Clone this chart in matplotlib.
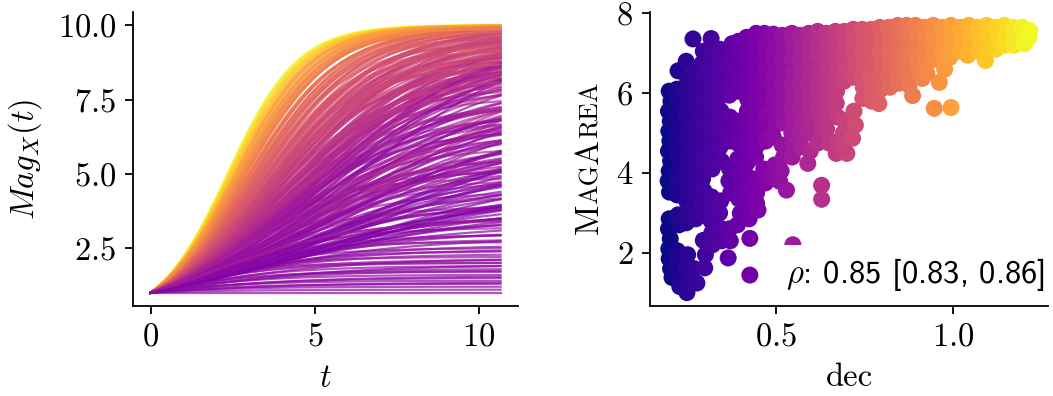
import numpy as np
import matplotlib
matplotlib.use("Agg")
import matplotlib.pyplot as plt
from matplotlib import colors

plt.rcParams['font.family'] = 'cmr10'
plt.rcParams['mathtext.fontset'] = 'cm'
plt.rcParams['axes.formatter.use_mathtext'] = True
plt.rcParams['axes.unicode_minus'] = False

FS = 23.5

# ---------------- left panel: growth curves (asymptote K, rate r, colour value c) ----------------
t_end = 10.65
curve_K = [10.0, 10.0, 10.0, 9.98, 10.0, 9.97, 10.0, 9.95, 9.99, 9.93, 10.0, 9.96, 9.9, 9.98, 9.92,
           9.88, 9.95, 9.85, 9.9, 9.97, 9.8, 9.86, 9.93, 9.78, 9.9, 9.83, 9.75, 9.88, 9.8, 9.7,
           9.6, 9.4, 9.8, 9.2, 9.5, 9.7, 9.0, 9.3, 9.9, 8.9, 9.6, 9.1, 9.4, 8.8, 9.7, 9.2, 8.6, 9.5,
           9.0, 9.8, 8.7, 9.3, 9.6, 8.5, 9.1, 9.4, 8.9, 9.7, 9.2, 8.8, 9.5, 9.0, 8.6, 9.3, 9.6,
           10.0, 9.95, 9.9, 9.85, 9.97, 9.8, 9.92, 9.75, 9.88, 9.7, 9.99, 9.6, 9.83, 9.5, 9.94,
           9.65, 9.78, 9.45, 9.9, 9.55, 9.86, 9.4, 9.72, 9.3, 9.96, 9.62, 9.81, 9.35, 9.68, 9.9,
           9.55, 9.35, 9.15, 8.95, 8.75, 9.75, 9.45, 9.25, 9.05, 8.85, 8.65, 9.65, 9.42, 9.18,
           8.92, 8.7, 9.5, 9.28, 9.08, 8.88, 9.58, 9.38, 8.98, 8.78,
           8.8, 8.5, 8.2, 7.9, 7.6, 7.3, 7.0, 8.6, 8.0, 7.5, 7.2, 6.8, 6.5, 8.4, 7.8, 7.1, 6.6, 6.2,
           8.1, 7.4, 6.9, 6.4, 6.0, 7.7, 7.0, 8.3, 6.7, 7.9, 6.3, 7.5, 8.7, 6.1, 7.2, 6.8, 8.0, 7.6,
           6.5, 7.3, 8.5, 6.9,
           6.4, 6.1, 5.9, 5.7, 5.5, 5.3, 5.1, 4.9, 4.8, 4.6, 4.4, 4.2, 4.0, 3.9, 3.7, 3.5, 3.4, 3.2,
           3.0, 6.2, 5.8, 5.4, 5.0, 4.7, 4.3, 3.8, 3.3, 5.6, 4.5, 3.6, 6.0, 5.2, 4.1, 3.1, 4.85,
           2.95, 2.8, 2.7, 2.6, 2.5, 2.4, 2.3, 2.2, 2.1, 2.0, 2.0, 1.9, 1.8, 1.7, 1.6, 1.5, 1.4,
           1.3, 1.2, 1.0, 2.85, 2.45, 2.15, 1.95, 1.75, 1.55, 1.35, 1.1,
           9.9, 9.7, 9.5, 9.3, 9.1, 8.9, 8.7, 8.5, 8.3, 8.1, 7.9, 7.7, 7.5, 7.3, 7.1, 9.8, 9.6, 9.4,
           9.2, 9.0, 8.8, 8.6, 8.4, 8.2, 8.0, 7.8, 7.6, 7.4, 7.2, 7.0, 9.85, 9.65, 9.45, 9.25, 9.05,
           8.85, 8.65, 8.45, 8.25, 8.05,
           6.9, 6.6, 6.3, 6.0, 5.7, 5.4, 5.1, 4.8, 4.5, 4.2, 3.9, 3.6, 6.75, 6.45, 6.15, 5.85, 5.55,
           5.25, 4.95, 4.65, 4.35, 4.05, 3.75, 3.45, 5.0]
curve_r = [0.94, 0.93, 0.92, 0.91, 0.90, 0.89, 0.88, 0.87, 0.86, 0.85, 0.84, 0.83, 0.82, 0.81, 0.80,
           0.79, 0.78, 0.77, 0.76, 0.75, 0.74, 0.73, 0.72, 0.71, 0.70, 0.69, 0.68, 0.67, 0.66, 0.65,
           0.70, 0.68, 0.66, 0.65, 0.64, 0.62, 0.61, 0.60, 0.59, 0.58, 0.57, 0.56, 0.55, 0.55, 0.54,
           0.53, 0.52, 0.52, 0.51, 0.50, 0.50, 0.49, 0.48, 0.48, 0.47, 0.46, 0.46, 0.45, 0.45, 0.44,
           0.43, 0.43, 0.42, 0.41, 0.40,
           0.85, 0.82, 0.80, 0.78, 0.76, 0.74, 0.72, 0.70, 0.68, 0.66, 0.64, 0.62, 0.60, 0.58, 0.57,
           0.56, 0.55, 0.54, 0.53, 0.52, 0.51, 0.50, 0.62, 0.66, 0.70, 0.59, 0.73, 0.57, 0.61, 0.79,
           0.52, 0.48, 0.56, 0.45, 0.50, 0.44, 0.60, 0.47, 0.53, 0.42, 0.58, 0.41, 0.49, 0.55,
           0.46, 0.51, 0.43, 0.57, 0.40, 0.54, 0.47, 0.42, 0.59, 0.48,
           0.60, 0.58, 0.56, 0.55, 0.54, 0.52, 0.50, 0.48, 0.47, 0.46, 0.45, 0.44, 0.42, 0.41, 0.40,
           0.40, 0.39, 0.38, 0.37, 0.37, 0.36, 0.35, 0.35, 0.34, 0.34, 0.33, 0.33, 0.32, 0.32, 0.31,
           0.31, 0.30, 0.30, 0.42, 0.36, 0.44, 0.50, 0.38, 0.34, 0.48,
           0.45, 0.40, 0.50, 0.35, 0.42, 0.38, 0.55, 0.33, 0.44, 0.36, 0.48, 0.32, 0.40, 0.52, 0.35,
           0.45, 0.38, 0.50, 0.42, 0.30, 0.28, 0.32, 0.30, 0.28, 0.30, 0.29, 0.33, 0.46, 0.27, 0.40,
           0.36, 0.48, 0.30, 0.35, 0.60,
           0.50, 0.45, 0.60, 0.40, 0.55, 0.50, 0.45, 0.60, 0.50, 0.70, 0.55, 0.50, 0.45, 0.60, 0.50,
           0.40, 0.50, 0.45, 0.50, 0.50, 0.35, 0.42, 0.38, 0.33, 0.40, 0.36, 0.30, 0.45,
           0.62, 0.55, 0.60, 0.50, 0.58, 0.47, 0.56, 0.52, 0.45, 0.54, 0.50, 0.44, 0.48, 0.42, 0.46,
           0.40, 0.52, 0.38, 0.57, 0.43, 0.60, 0.41, 0.49, 0.39, 0.53, 0.37, 0.45, 0.51, 0.36, 0.44,
           0.35, 0.58, 0.42, 0.63, 0.40, 0.50, 0.38, 0.46, 0.55, 0.41,
           0.32, 0.45, 0.30, 0.38, 0.28, 0.42, 0.33, 0.50, 0.29, 0.36, 0.44, 0.31, 0.27, 0.40, 0.35,
           0.30, 0.48, 0.26, 0.37, 0.32, 0.41, 0.28, 0.34, 0.47, 0.25]
curve_c = [1.0, 0.97, 0.95, 0.92, 0.90, 0.88, 0.86, 0.84, 0.82, 0.80, 0.78, 0.77, 0.76, 0.75, 0.74,
           0.72, 0.71, 0.70, 0.68, 0.67, 0.66, 0.65, 0.64, 0.63, 0.62, 0.61, 0.60, 0.59, 0.58, 0.57,
           0.62, 0.58, 0.60, 0.52, 0.56, 0.55, 0.48, 0.50, 0.56, 0.44, 0.52, 0.46, 0.50, 0.40, 0.54,
           0.44, 0.38, 0.48, 0.42, 0.52, 0.36, 0.44, 0.50, 0.34, 0.40, 0.46, 0.36, 0.50, 0.40, 0.34,
           0.46, 0.38, 0.33, 0.42, 0.48,
           0.78, 0.75, 0.73, 0.70, 0.68, 0.66, 0.64, 0.62, 0.60, 0.58, 0.56, 0.54, 0.52, 0.50, 0.49,
           0.48, 0.47, 0.46, 0.45, 0.45, 0.44, 0.43, 0.53, 0.57, 0.62, 0.50, 0.65, 0.48, 0.52, 0.72,
           0.50, 0.44, 0.52, 0.40, 0.46, 0.42, 0.56, 0.44, 0.48, 0.37, 0.54, 0.38, 0.45, 0.50,
           0.40, 0.46, 0.39, 0.52, 0.35, 0.48, 0.44, 0.38, 0.55, 0.42,
           0.48, 0.45, 0.42, 0.40, 0.38, 0.36, 0.34, 0.46, 0.40, 0.36, 0.34, 0.31, 0.30, 0.42, 0.38,
           0.33, 0.30, 0.29, 0.40, 0.35, 0.32, 0.30, 0.28, 0.36, 0.32, 0.40, 0.30, 0.37, 0.29, 0.35,
           0.44, 0.28, 0.33, 0.31, 0.38, 0.36, 0.30, 0.34, 0.42, 0.32,
           0.36, 0.33, 0.38, 0.30, 0.34, 0.31, 0.38, 0.28, 0.34, 0.30, 0.36, 0.27, 0.32, 0.37, 0.29,
           0.34, 0.30, 0.35, 0.32, 0.26, 0.26, 0.27, 0.27, 0.26, 0.27, 0.26, 0.28, 0.35, 0.25, 0.31,
           0.30, 0.36, 0.27, 0.29, 0.40,
           0.32, 0.30, 0.34, 0.29, 0.33, 0.31, 0.30, 0.33, 0.31, 0.35, 0.33, 0.31, 0.30, 0.32, 0.31,
           0.29, 0.30, 0.29, 0.30, 0.30, 0.28, 0.30, 0.29, 0.28, 0.30, 0.29, 0.28, 0.30,
           0.55, 0.48, 0.52, 0.42, 0.50, 0.38, 0.47, 0.44, 0.36, 0.45, 0.40, 0.33, 0.38, 0.30, 0.35,
           0.35, 0.45, 0.32, 0.50, 0.36, 0.52, 0.33, 0.40, 0.31, 0.44, 0.29, 0.37, 0.42, 0.28, 0.34,
           0.30, 0.50, 0.35, 0.56, 0.32, 0.42, 0.30, 0.38, 0.47, 0.33,
           0.28, 0.35, 0.27, 0.31, 0.26, 0.34, 0.28, 0.38, 0.26, 0.30, 0.34, 0.27, 0.25, 0.32, 0.29,
           0.27, 0.37, 0.25, 0.30, 0.28, 0.33, 0.26, 0.29, 0.36, 0.25]

# ---------------- right panel: scatter (dec, MagArea) ----------------
dec = [
    0.200, 0.205, 0.198, 0.203, 0.199, 0.202, 0.198, 0.204, 0.200, 0.197, 0.201, 0.200, 0.198, 0.203, 0.199, 0.200, 0.204, 0.208,
    0.225, 0.222, 0.226, 0.221, 0.228, 0.224, 0.222, 0.227, 0.223, 0.226, 0.222, 0.225, 0.228, 0.223, 0.226, 0.224, 0.230,
    0.248, 0.252, 0.247, 0.251, 0.249, 0.253, 0.248, 0.252, 0.250, 0.247, 0.253, 0.249, 0.251, 0.248, 0.252, 0.249, 0.250, 0.255,
    0.267, 0.270, 0.273, 0.268, 0.272, 0.269, 0.274, 0.268, 0.271, 0.273, 0.269, 0.272, 0.268, 0.275, 0.278, 0.271,
    0.296, 0.293, 0.298, 0.294, 0.297, 0.292, 0.298, 0.295, 0.293, 0.297, 0.294, 0.298, 0.292, 0.296, 0.296, 0.300, 0.302,
    0.318, 0.322, 0.317, 0.321, 0.319, 0.323, 0.318, 0.322, 0.320, 0.317, 0.321, 0.319, 0.323, 0.318, 0.320, 0.322,
    0.343, 0.347, 0.344, 0.348, 0.342, 0.346, 0.344, 0.348, 0.343, 0.347, 0.345, 0.342, 0.343, 0.348,
    0.377, 0.372, 0.368, 0.373, 0.369, 0.371, 0.367, 0.372, 0.370, 0.368, 0.373, 0.370, 0.366, 0.372,
    0.395, 0.398, 0.393, 0.397, 0.392, 0.396, 0.394, 0.398, 0.393, 0.397, 0.395, 0.400, 0.396, 0.392,
    0.418, 0.422, 0.419, 0.423, 0.417, 0.421, 0.420, 0.424, 0.418, 0.422, 0.419, 0.423, 0.420, 0.418, 0.427, 0.427, 0.425,
    0.445, 0.448, 0.443, 0.447, 0.444, 0.449, 0.443, 0.447, 0.445, 0.448, 0.443, 0.446, 0.446, 0.450, 0.447,
    0.468, 0.472, 0.469, 0.473, 0.467, 0.471, 0.470, 0.474, 0.468, 0.472, 0.466, 0.471,
    0.493, 0.497, 0.494, 0.498, 0.492, 0.496, 0.495, 0.499, 0.493, 0.490, 0.497,
    0.518, 0.522, 0.519, 0.523, 0.517, 0.521, 0.520, 0.524, 0.518, 0.511, 0.530, 0.522, 0.515,
    0.545, 0.549, 0.546, 0.550, 0.544, 0.548, 0.547, 0.551, 0.545, 0.549, 0.546, 0.548,
    0.568, 0.572, 0.569, 0.573, 0.567, 0.571, 0.570, 0.574, 0.568, 0.572,
    0.593, 0.597, 0.594, 0.598, 0.592, 0.596, 0.595, 0.599, 0.593, 0.590, 0.597,
    0.618, 0.622, 0.619, 0.623, 0.617, 0.621, 0.620, 0.624, 0.630, 0.629, 0.629, 0.618,
    0.643, 0.647, 0.644, 0.648, 0.642, 0.646, 0.645, 0.649, 0.643, 0.650,
    0.668, 0.672, 0.669, 0.673, 0.667, 0.671, 0.670, 0.674, 0.670, 0.675,
    0.693, 0.697, 0.694, 0.698, 0.692, 0.693, 0.700, 0.690, 0.688,
    0.718, 0.722, 0.719, 0.723, 0.717, 0.716, 0.720, 0.724,
    0.743, 0.747, 0.744, 0.748, 0.742, 0.745, 0.746,
    0.768, 0.772, 0.769, 0.773, 0.767, 0.771, 0.770,
    0.793, 0.797, 0.794, 0.798, 0.792, 0.796, 0.790,
    0.818, 0.822, 0.819, 0.823, 0.817, 0.821,
    0.843, 0.847, 0.844, 0.848, 0.842, 0.846,
    0.868, 0.872, 0.869, 0.873, 0.867, 0.875, 0.885,
    0.893, 0.897, 0.894, 0.898, 0.912, 0.903,
    0.918, 0.922, 0.919, 0.923, 0.925,
    0.943, 0.947, 0.944, 0.948, 0.960, 0.975, 0.946,
    0.968, 0.972, 0.969, 0.973,
    0.993, 0.997, 0.994, 0.993, 0.990,
    1.018, 1.022, 1.019,
    1.043, 1.047, 1.044, 1.040,
    1.068, 1.072, 1.069,
    1.093, 1.097, 1.090, 1.094,
    1.118, 1.122, 1.119,
    1.143, 1.147, 1.144,
    1.168, 1.172, 1.170,
    1.193, 1.197, 1.200,
    1.215, 1.212,
]
mag_area = [
    6.05, 5.80, 5.55, 5.30, 5.05, 4.80, 4.55, 4.30, 4.05, 3.80, 3.52, 2.85, 2.60, 2.35, 2.10, 1.85, 1.60, 1.38,
    6.56, 6.10, 5.85, 5.45, 5.15, 4.90, 4.60, 4.35, 4.00, 3.75, 3.45, 2.95, 2.70, 2.05, 1.80, 1.55, 1.15,
    6.80, 6.35, 6.05, 5.75, 5.40, 5.10, 4.75, 4.45, 4.15, 3.90, 3.60, 3.30, 3.00, 2.75, 1.95, 1.65, 1.00, 1.30,
    7.36, 6.55, 6.20, 5.90, 5.60, 5.25, 4.95, 4.60, 4.30, 4.00, 3.70, 3.40, 3.10, 2.85, 1.24, 1.60,
    7.05, 6.75, 6.40, 6.10, 5.75, 5.45, 5.15, 4.85, 4.50, 4.20, 3.85, 3.55, 3.25, 2.95, 2.31, 1.62, 1.95,
    7.37, 7.00, 6.65, 6.35, 6.00, 5.70, 5.35, 5.05, 4.70, 4.40, 4.10, 3.40, 3.10, 2.80, 2.50, 2.20,
    7.10, 6.80, 6.50, 6.20, 5.90, 5.55, 5.25, 4.95, 4.65, 4.30, 3.30, 3.00, 2.62, 2.30,
    7.24, 6.90, 6.60, 6.25, 5.95, 5.40, 5.10, 4.80, 4.10, 3.80, 3.50, 2.60, 1.87, 2.30,
    7.30, 6.95, 6.65, 6.35, 6.05, 5.30, 5.00, 4.70, 4.35, 4.00, 3.70, 2.99, 3.35, 2.70,
    7.40, 7.10, 6.80, 6.45, 6.15, 5.85, 5.55, 5.25, 4.90, 4.60, 4.25, 3.90, 3.55, 3.20, 2.36, 1.44, 2.85,
    7.50, 7.20, 6.90, 6.55, 6.25, 5.95, 5.65, 5.35, 5.00, 4.70, 4.40, 3.50, 3.24, 3.07, 3.85,
    7.50, 7.20, 6.90, 6.60, 6.30, 6.00, 5.70, 5.40, 5.10, 4.80, 4.10, 3.75,
    7.48, 7.15, 6.85, 6.55, 6.25, 5.90, 5.55, 5.20, 4.90, 3.90, 4.20,
    7.45, 7.15, 6.80, 6.50, 6.20, 5.85, 5.55, 5.25, 4.70, 3.79, 3.57, 4.40, 4.05,
    7.50, 7.20, 6.90, 6.55, 6.25, 5.95, 5.60, 5.30, 5.00, 4.70, 4.40, 2.20,
    7.45, 7.15, 6.85, 6.50, 6.20, 5.90, 5.60, 5.30, 5.00, 4.65,
    7.50, 7.20, 6.90, 6.55, 6.25, 5.95, 5.65, 5.35, 5.00, 4.24, 4.55,
    7.55, 7.25, 6.95, 6.60, 6.30, 6.00, 5.70, 5.40, 5.07, 3.69, 3.34, 4.75,
    7.50, 7.20, 6.90, 6.60, 6.30, 6.00, 5.70, 5.40, 5.10, 4.75,
    7.55, 7.25, 6.95, 6.65, 6.35, 6.05, 5.75, 5.40, 4.49, 4.80,
    7.55, 7.25, 6.95, 6.60, 6.30, 5.32, 4.49, 5.00, 4.65,
    7.60, 7.30, 7.00, 6.70, 6.40, 4.87, 5.55, 5.20,
    7.60, 7.30, 7.00, 6.70, 6.40, 5.87, 6.15,
    7.60, 7.30, 7.00, 6.70, 6.40, 6.10, 5.80,
    7.65, 7.35, 7.05, 6.75, 6.45, 6.10, 5.74,
    7.65, 7.35, 7.05, 6.75, 6.45, 6.15,
    7.70, 7.40, 7.10, 6.80, 6.50, 6.25,
    7.70, 7.40, 7.10, 6.80, 6.50, 6.20, 5.94,
    7.70, 7.40, 7.10, 6.80, 6.37, 6.55,
    7.65, 7.35, 7.05, 6.75, 6.50,
    7.70, 7.40, 7.10, 6.85, 6.27, 6.60, 5.62,
    7.65, 7.35, 7.05, 6.85,
    7.70, 7.40, 7.10, 5.64, 6.90,
    7.65, 7.35, 7.05,
    7.70, 7.40, 7.10, 6.95,
    7.65, 7.35, 7.05,
    7.70, 7.40, 6.82, 7.10,
    7.65, 7.35, 7.10,
    7.70, 7.45, 7.20,
    7.65, 7.40, 7.20,
    7.65, 7.45, 7.24,
    7.57, 7.40,
]
rho_text = r'$\rho$: 0.85 [0.83, 0.86]'

# ---------------- figure ----------------
W, H = 1053, 396
fig = plt.figure(figsize=(W / 100, H / 100), dpi=100)
ax1 = fig.add_axes([133 / W, 1 - 306 / H, (518 - 133) / W, (306 - 12) / H])
ax2 = fig.add_axes([650 / W, 1 - 306 / H, (1048 - 650) / W, (306 - 12) / H])

cmap = plt.get_cmap('plasma')
t = np.linspace(0, t_end, 300)
for K, r, c in zip(curve_K, curve_r, curve_c):
    y = K / (1 + (K - 1) * np.exp(-r * t))
    ax1.plot(t, y, color=cmap(c), alpha=0.7, lw=1.6)

ax1.set_xticks([0, 5, 10])
ax1.set_yticks([2.5, 5.0, 7.5, 10.0])
ax1.set_xlabel('$t$', fontsize=FS, labelpad=9)
ax1.set_ylabel('$Mag_X(t)$', fontsize=FS, labelpad=10)

norm = colors.Normalize(vmin=min(dec), vmax=max(dec))
ax2.scatter(dec, mag_area, c=dec, cmap='plasma', norm=norm, s=150, linewidths=0)
ax2.set_xticks([0.5, 1.0])
ax2.set_yticks([2, 4, 6, 8])
ax2.set_xlabel('dec', fontsize=FS, labelpad=8)

ax2.text(0.9925, 0.078, rho_text, transform=ax2.transAxes, ha='right', va='baseline',
         fontsize=FS, fontfamily='cmss10',
         bbox=dict(boxstyle='square,pad=0.35', fc='white', ec='none'))

for ax in (ax1, ax2):
    for side in ('top', 'right'):
        ax.spines[side].set_visible(False)
    for side in ('left', 'bottom'):
        ax.spines[side].set_linewidth(1.3)
    ax.tick_params(labelsize=FS, length=6, width=1.3, pad=6)

# small-caps y label "MagArea" for the right panel, built piecewise
fig.canvas.draw()
renderer = fig.canvas.get_renderer()
pieces = [('M', FS * 1.02), ('AG', FS * 0.8), ('A', FS * 1.02), ('REA', FS * 0.8)]
texts = []
lengths = []
for s, fs in pieces:
    tx = fig.text(0, 0, s, fontsize=fs, rotation=90, rotation_mode='anchor',
                  ha='left', va='baseline')
    lengths.append(tx.get_window_extent(renderer).height)
    texts.append(tx)
total = sum(lengths)
center_y = H - 158
x_base = 598
y0 = center_y - total / 2
for tx, L in zip(texts, lengths):
    tx.set_position((x_base / W, y0 / H))
    y0 += L

fig.savefig('out.png', dpi=100)
